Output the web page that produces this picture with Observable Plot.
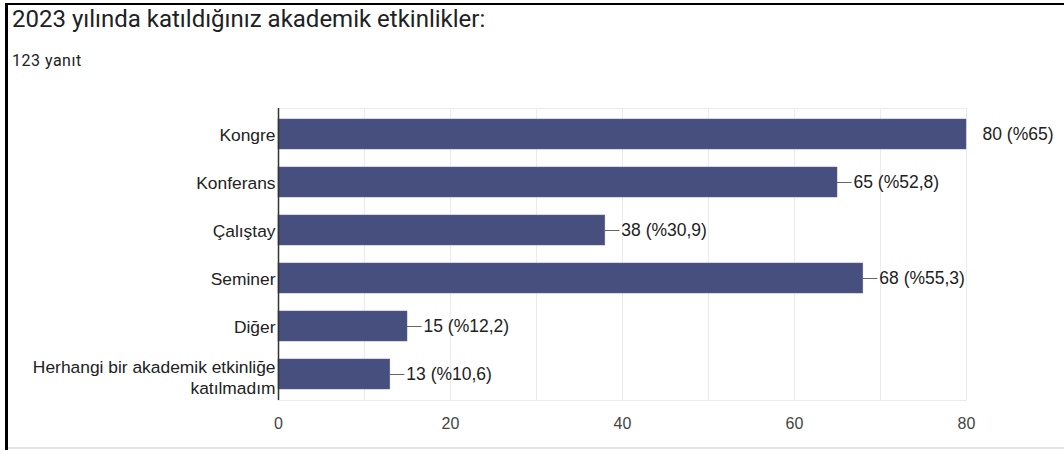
<!DOCTYPE html>
<html><head><meta charset="utf-8">
<script src="https://cdn.jsdelivr.net/npm/d3@7"></script>
<script src="https://cdn.jsdelivr.net/npm/@observablehq/plot@0.6"></script>
<style>
html,body{margin:0;padding:0;background:#fff;}
#wrap{position:relative;width:1064px;height:450px;overflow:hidden;background:#fff;}
#bl{position:absolute;left:5px;top:3px;width:3px;height:447px;background:#000;}
#bt{position:absolute;left:5px;top:3px;width:1059px;height:2px;background:#000;}
#bb{position:absolute;left:8px;top:447px;width:1056px;height:2px;background:#e4e4e4;}
#title{position:absolute;left:12px;top:5px;font:24px Roboto,sans-serif;color:#202124;}
#sub{position:absolute;left:12px;top:51px;font:16px Roboto,sans-serif;color:#222;letter-spacing:0.5px;}
#chart{position:absolute;left:0;top:0;}
</style></head>
<body>
<div id="wrap">
<div id="chart"></div>
<div id="bl"></div><div id="bt"></div><div id="bb"></div>
<div id="title">2023 yılında katıldığınız akademik etkinlikler:</div>
<div id="sub">123 yanıt</div>
</div>
<script>
const categories = ["Kongre","Konferans","Çalıştay","Seminer","Diğer","Herhangi bir akademik etkinliğe\nkatılmadım"];
const counts = [80,65,38,68,15,13];
const labels = ["80 (%65)","65 (%52,8)","38 (%30,9)","68 (%55,3)","15 (%12,2)","13 (%10,6)"];
const xTicks = [0,20,40,60,80];
const gridTicks = [10,20,30,40,50,60,70];

const data = categories.map((c,i)=>({cat:c, n:counts[i], label:labels[i]}));
const singleLine = categories.filter(c=>!c.includes("\n"));
const multiLine = categories.filter(c=>c.includes("\n"));

const labelStyle = {frameAnchor:"left", textAnchor:"end", dx:-3, fontSize:17.4, fill:"#222", lineHeight:1.22};

const chart = Plot.plot({
  width:1064, height:450,
  marginLeft:278, marginRight:98, marginTop:108, marginBottom:50,
  style:{fontFamily:"Arial, 'Liberation Sans', sans-serif", fontSize:"17px", color:"#222", background:"transparent"},
  x:{domain:[0,80], label:null},
  y:{domain:categories, label:null, paddingInner:0.38, paddingOuter:0.2, axis:null},
  marks:[
    Plot.ruleX(gridTicks, {stroke:"#ebebeb", strokeWidth:1, strokeOpacity:1}),
    Plot.frame({stroke:"#ebebeb", strokeOpacity:1}),
    Plot.ruleY(data, {y:"cat", x1:"n", x2:d=>d.n+1.7, stroke:"#666", strokeWidth:1, clip:true}),
    Plot.barX(data, {x:"n", y:"cat", fill:"#474f7e", stroke:"#5a6190", strokeWidth:0.5}),
    Plot.text(data, {x:"n", y:"cat", text:"label", textAnchor:"start", dx:16, fontSize:17.5, fill:"#222"}),
    Plot.text(singleLine, {y:d=>d, text:d=>d, ...labelStyle}),
    Plot.text(multiLine, {y:d=>d, text:d=>d, ...labelStyle, dy:2}),
    Plot.axisX({ticks:xTicks, tickSize:0, tickPadding:17, fontSize:16, fill:"#444"}),
    Plot.ruleX([0], {stroke:"#333", strokeWidth:1.5})
  ]
});
document.getElementById("chart").appendChild(chart);
</script>
</body></html>
